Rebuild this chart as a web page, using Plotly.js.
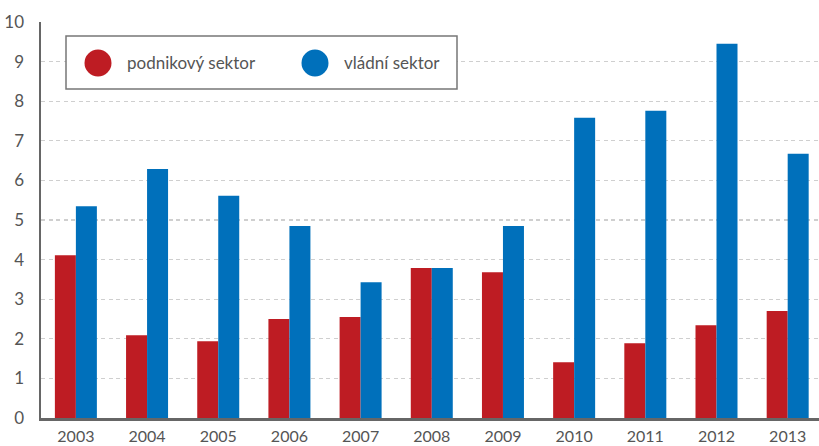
<!DOCTYPE html>
<html>
<head>
<meta charset="utf-8">
<script src="https://cdn.plot.ly/plotly-3.0.1.min.js"></script>
<style>html,body{margin:0;padding:0;background:#fff;}#chart{width:819px;height:446px;}</style>
</head>
<body>
<div id="chart"></div>
<script>
var years = ['2003','2004','2005','2006','2007','2008','2009','2010','2011','2012','2013'];
var podnikovy = [4.11, 2.09, 1.94, 2.50, 2.55, 3.79, 3.68, 1.41, 1.89, 2.34, 2.70];
var vladni = [5.35, 6.29, 5.61, 4.85, 3.43, 3.79, 4.85, 7.58, 7.76, 9.45, 6.67];
var seriesNames = ['podnikový sektor', 'vládní sektor'];
var yTicks = [0,1,2,3,4,5,6,7,8,9,10];

var RED = '#BE1C23';
var BLUE = '#0070BB';
var TXT = '#555555';
var FONT = 'Lato, "Open Sans", sans-serif';

var L = 41, R = 819, T = 22, B = 418;
function px(x){ return (x - L) / (R - L); }
function py(y){ return (B - y) / (B - T); }

var traces = [
  {type:'bar', x: years, y: podnikovy, name: seriesNames[0], marker:{color:RED}, showlegend:false, hoverinfo:'x+y'},
  {type:'bar', x: years, y: vladni, name: seriesNames[1], marker:{color:BLUE}, showlegend:false, hoverinfo:'x+y'}
];

var layout = {
  width: 819, height: 446,
  margin: {l: L, r: 819 - R, t: T, b: 446 - B, pad: 0},
  paper_bgcolor: '#fff', plot_bgcolor: '#fff',
  font: {family: FONT, size: 17, color: TXT},
  barmode: 'group', bargap: 0.41, bargroupgap: 0,
  showlegend: false,
  xaxis: {
    type: 'category', range: [-0.49, 10.44],
    showline: true, linecolor: '#666', linewidth: 2.5,
    showgrid: false, zeroline: false, ticks: '',
    ticklabelstandoff: 2,
    tickfont: {family: FONT, size: 16, color: TXT}
  },
  yaxis: {
    range: [0, 10], tickvals: yTicks, ticktext: yTicks.map(String),
    showline: true, linecolor: '#666', linewidth: 2.5,
    showgrid: true, gridcolor: '#cfcfcf', gridwidth: 1.3, griddash: '4px,3.5px',
    zeroline: false, ticks: '',
    ticklabelstandoff: 11,
    tickfont: {family: FONT, size: 17, color: TXT}
  },
  shapes: [
    {type:'rect', xref:'paper', yref:'paper', x0: px(66), x1: px(457), y0: py(89), y1: py(36),
     line:{color:'#777', width:1.5}, fillcolor:'#fff', layer:'above'},
    {type:'circle', xref:'paper', yref:'paper', xsizemode:'pixel', ysizemode:'pixel',
     xanchor: px(98), yanchor: py(63), x0:-13.5, x1:13.5, y0:-13.5, y1:13.5,
     fillcolor: RED, line:{width:0}, layer:'above'},
    {type:'circle', xref:'paper', yref:'paper', xsizemode:'pixel', ysizemode:'pixel',
     xanchor: px(315), yanchor: py(63), x0:-13.5, x1:13.5, y0:-13.5, y1:13.5,
     fillcolor: BLUE, line:{width:0}, layer:'above'}
  ],
  annotations: [
    {xref:'paper', yref:'paper', x: px(125), y: py(63), xanchor:'left', yanchor:'middle',
     text: seriesNames[0], showarrow:false, font:{family:FONT, size:17, color:TXT}},
    {xref:'paper', yref:'paper', x: px(342), y: py(63), xanchor:'left', yanchor:'middle',
     text: seriesNames[1], showarrow:false, font:{family:FONT, size:17, color:TXT}}
  ]
};

Plotly.newPlot('chart', traces, layout, {displayModeBar:false, staticPlot:true});
</script>
</body>
</html>
